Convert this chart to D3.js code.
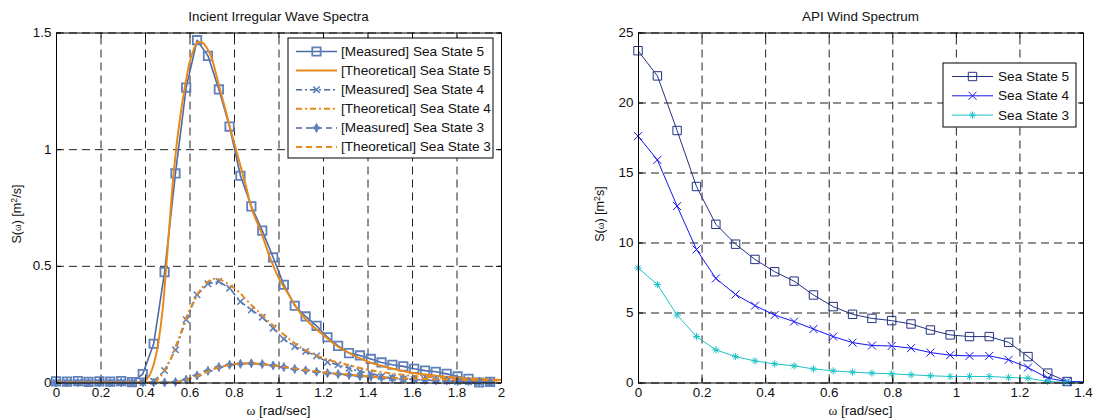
<!DOCTYPE html>
<html><head><meta charset="utf-8">
<script src="https://cdn.jsdelivr.net/npm/d3@7"></script>
<style>
body{margin:0;background:#fff;}
svg{display:block;font-family:"Liberation Sans",Arial,sans-serif;}
</style></head><body>
<svg id="c" width="1093" height="419"></svg>
<script>
// ---------------- DATA ----------------
// Left: incident irregular wave spectra (measured points)
const waveX = [0,0.049,0.098,0.146,0.195,0.244,0.293,0.341,0.390,0.439,0.488,0.537,0.585,0.634,0.683,0.732,0.780,0.829,0.878,0.927,0.976,1.024,1.073,1.122,1.171,1.220,1.268,1.317,1.366,1.415,1.463,1.512,1.561,1.610,1.659,1.707,1.756,1.805,1.854,1.902,1.951];
const measSS5 = [0.005,0.004,0.006,0.003,0.005,0.004,0.006,0.002,0.036,0.166,0.473,0.896,1.264,1.467,1.400,1.256,1.097,0.886,0.755,0.651,0.536,0.419,0.329,0.283,0.243,0.194,0.157,0.126,0.116,0.101,0.086,0.076,0.069,0.059,0.051,0.046,0.037,0.026,0.016,0.000,0.003];
const measSS4 = [0,0,0,0,0,0,0,0,0.000,0.005,0.051,0.140,0.269,0.376,0.423,0.433,0.404,0.347,0.311,0.280,0.233,0.186,0.154,0.133,0.114,0.087,0.076,0.061,0.047,0.040,0.026,0.019,0.016,0.013,0.010,0.008,0.006,0.004,0.003,0.001,0.000];
const measSS3 = [0,0,0,0,0,0,0,0,0,0,0,0.002,0.012,0.030,0.050,0.066,0.076,0.080,0.082,0.079,0.073,0.066,0.058,0.052,0.046,0.040,0.036,0.032,0.027,0.024,0.021,0.018,0.015,0.013,0.011,0.009,0.008,0.006,0.005,0.004,0.003];
// Left: theoretical curves
const thX = [0,0.3,0.36,0.4,0.42,0.44,0.46,0.48,0.5,0.52,0.54,0.56,0.58,0.6,0.62,0.64,0.66,0.68,0.7,0.72,0.74,0.76,0.78,0.8,0.82,0.85,0.88,0.92,0.96,1.0,1.05,1.1,1.15,1.2,1.25,1.3,1.4,1.5,1.6,1.7,1.8,1.9,2.0];
const theoSS5 = [0,0,0,0.008,0.03,0.08,0.17,0.32,0.55,0.80,1.0,1.15,1.27,1.37,1.43,1.46,1.455,1.43,1.39,1.32,1.245,1.175,1.10,1.03,0.96,0.855,0.745,0.65,0.54,0.45,0.37,0.295,0.245,0.205,0.165,0.135,0.09,0.062,0.042,0.03,0.021,0.015,0.011];
const theoSS4 = [0,0,0,0,0,0.003,0.015,0.04,0.075,0.11,0.16,0.21,0.265,0.31,0.35,0.385,0.41,0.43,0.442,0.445,0.44,0.43,0.418,0.405,0.39,0.36,0.33,0.295,0.258,0.225,0.185,0.15,0.125,0.105,0.09,0.078,0.055,0.04,0.029,0.022,0.017,0.013,0.011];
const theoSS3 = [0,0,0,0,0,0,0,0,0,0,0.001,0.004,0.009,0.015,0.022,0.03,0.038,0.046,0.054,0.061,0.067,0.072,0.076,0.079,0.081,0.082,0.082,0.079,0.075,0.07,0.063,0.056,0.05,0.044,0.039,0.035,0.027,0.021,0.017,0.014,0.012,0.01,0.009];
const waveLabels = ["[Measured] Sea State 5","[Theoretical] Sea State 5","[Measured] Sea State 4","[Theoretical] Sea State 4","[Measured] Sea State 3","[Theoretical] Sea State 3"];
const waveXTicks = [0,0.2,0.4,0.6,0.8,1,1.2,1.4,1.6,1.8,2];
const waveYTicks = [0,0.5,1,1.5];

// Right: API wind spectrum
const windX = [0,0.061,0.123,0.184,0.245,0.307,0.368,0.430,0.491,0.552,0.614,0.675,0.736,0.798,0.859,0.920,0.982,1.043,1.105,1.166,1.227,1.289,1.350,1.45];
const windSS5 = [23.7,21.9,18.0,14.0,11.3,9.88,8.79,7.91,7.24,6.25,5.42,4.87,4.58,4.42,4.18,3.75,3.40,3.28,3.28,2.87,1.85,0.67,0.07,0];
const windSS4 = [17.6,15.9,12.6,9.5,7.43,6.29,5.49,4.82,4.35,3.82,3.28,2.85,2.64,2.61,2.45,2.14,1.95,1.90,1.90,1.62,1.07,0.31,0.07,0];
const windSS3 = [8.19,7.0,4.82,3.28,2.33,1.85,1.54,1.33,1.19,0.97,0.83,0.74,0.67,0.62,0.55,0.48,0.43,0.43,0.43,0.36,0.31,0.07,0.02,0];
const windLabels = ["Sea State 5","Sea State 4","Sea State 3"];
const windXTicks = [0,0.2,0.4,0.6,0.8,1,1.2,1.4];
const windYTicks = [0,5,10,15,20,25];

// ---------------- DRAWING ----------------
const svg = d3.select('#c');
const SX = 1.1;            // horizontal text stretch seen in the reference
const FS = 12.2, LFS = 12.4, YFS = 12.6;
const fmt = d3.format('~g');

const markerPaths = {
  square: s => `M${-s},${-s}H${s}V${s}H${-s}Z`,
  cross: s => `M${-s},${-s}L${s},${s}M${-s},${s}L${s},${-s}`,
  star4: s => `M0,${-s}L${s*0.32},${-s*0.32}L${s},0L${s*0.32},${s*0.32}L0,${s}L${-s*0.32},${s*0.32}L${-s},0L${-s*0.32},${-s*0.32}Z`,
  asterisk: s => `M${-s},0H${s}M0,${-s}V${s}M${-s*0.7},${-s*0.7}L${s*0.7},${s*0.7}M${-s*0.7},${s*0.7}L${s*0.7},${-s*0.7}`
};

function stext(g, x, y, str, anchor, size) {
  return g.append('text')
    .attr('transform', `translate(${x},${y}) scale(${SX},1)`)
    .attr('text-anchor', anchor).attr('font-size', size).attr('fill', '#111')
    .text(str);
}

function makeFrame(P, xDom, yDom, xTicks, yTicks, title, id) {
  const g = svg.append('g');
  const x = d3.scaleLinear().domain(xDom).range([P.x0, P.x1]);
  const y = d3.scaleLinear().domain(yDom).range([P.y1, P.y0]);
  // grid
  g.append('g').attr('transform', `translate(0,${P.y1})`)
    .call(d3.axisBottom(x).tickValues(xTicks).tickSize(-(P.y1-P.y0)).tickFormat(''))
    .call(s => { s.select('.domain').remove(); s.selectAll('line').attr('stroke','#222').attr('stroke-dasharray','8,5').attr('stroke-width',1); });
  g.append('g').attr('transform', `translate(${P.x0},0)`)
    .call(d3.axisLeft(y).tickValues(yTicks).tickSize(-(P.x1-P.x0)).tickFormat(''))
    .call(s => { s.select('.domain').remove(); s.selectAll('line').attr('stroke','#222').attr('stroke-dasharray','8,5').attr('stroke-width',1); });
  svg.append('clipPath').attr('id', id).append('rect')
    .attr('x', P.x0).attr('y', P.y0).attr('width', P.x1-P.x0).attr('height', P.y1-P.y0);
  const axesG = svg.append('g');
  const bottom = axesG.append('g').attr('transform', `translate(0,${P.y1})`)
    .call(d3.axisBottom(x).tickValues(xTicks).tickFormat(fmt).tickSizeInner(-5).tickSizeOuter(0).tickPadding(6));
  const left = axesG.append('g').attr('transform', `translate(${P.x0},0)`)
    .call(d3.axisLeft(y).tickValues(yTicks).tickFormat(fmt).tickSizeInner(-5).tickSizeOuter(0).tickPadding(4.5));
  axesG.append('g').attr('transform', `translate(0,${P.y0})`)
    .call(d3.axisTop(x).tickValues(xTicks).tickFormat('').tickSizeInner(-5).tickSizeOuter(0));
  axesG.append('g').attr('transform', `translate(${P.x1},0)`)
    .call(d3.axisRight(y).tickValues(yTicks).tickFormat('').tickSizeInner(-5).tickSizeOuter(0));
  axesG.selectAll('.domain').attr('stroke','#000');
  axesG.selectAll('line').attr('stroke','#000');
  axesG.selectAll('text').attr('font-size', FS).attr('font-family','"Liberation Sans",Arial,sans-serif').attr('fill','#111')
    .attr('transform', `scale(${SX},1)`);
  bottom.selectAll('text').attr('x', 0);
  left.selectAll('text').each(function(){ const t=d3.select(this); t.attr('x', (+t.attr('x'))/SX); });
  stext(g, (P.x0+P.x1)/2, 21, title, 'middle', FS);
  const xl = g.append('text').attr('transform', `translate(${(P.x0+P.x1)/2},415) scale(${SX},1)`)
    .attr('text-anchor','middle').attr('font-size', FS).attr('fill','#111');
  xl.append('tspan').attr('font-family','"Liberation Serif","Times New Roman",serif').text('ω');
  xl.append('tspan').text(' [rad/sec]');
  return {g, x, y, axesG, clip: id};
}

function drawLegend(box, rows, lineX0, lineX1, textX, rowY0, rowDy, size) {
  const lg = svg.append('g');
  lg.append('rect').attr('x', box.x).attr('y', box.y).attr('width', box.w).attr('height', box.h)
    .attr('fill','#fff').attr('stroke','#000').attr('stroke-width',1);
  rows.forEach((r, i) => {
    const yy = rowY0 + i*rowDy;
    lg.append('line').attr('x1', lineX0).attr('x2', lineX1).attr('y1', yy).attr('y2', yy)
      .attr('stroke', r.color).attr('stroke-width', r.width).attr('stroke-dasharray', r.dash || null);
    if (r.marker) {
      lg.append('path').attr('transform', `translate(${(lineX0+lineX1)/2},${yy})`)
        .attr('d', markerPaths[r.marker](r.mSize))
        .attr('fill', r.mFill || 'none').attr('stroke', r.mColor || r.color).attr('stroke-width', r.mWidth || r.width);
    }
    stext(lg, textX, yy + size*0.36, r.name, 'start', size);
  });
}

function drawSeries(F, s, xMax) {
  const pts = s.xs.map((d, i) => [d, s.ys[i]]);
  const line = d3.line().x(d => F.x(d[0])).y(d => F.y(d[1]));
  if (s.smooth) line.curve(d3.curveMonotoneX);
  F.g.append('path').attr('clip-path', `url(#${F.clip})`).datum(pts)
    .attr('d', line).attr('fill','none').attr('stroke', s.color).attr('stroke-width', s.width)
    .attr('stroke-dasharray', s.dash || null).attr('stroke-linejoin','round');
  if (s.marker) {
    F.g.append('g').selectAll('path').data(pts.filter(d => d[0] <= xMax)).join('path')
      .attr('transform', d => `translate(${F.x(d[0])},${F.y(d[1])})`)
      .attr('d', markerPaths[s.marker](s.mSize))
      .attr('fill', s.mFill || 'none').attr('stroke', s.mColor || s.color).attr('stroke-width', s.mWidth || s.width);
  }
}

function yLabel(F, tx, ty, sep, tail) {
  const yl = F.g.append('text').attr('transform', `translate(${tx},${ty}) rotate(-90)`)
    .attr('text-anchor','middle').attr('font-size', YFS).attr('fill','#111');
  yl.append('tspan').text('S(');
  yl.append('tspan').attr('font-family','"Liberation Serif",serif').attr('font-size', YFS*0.8).text('ω');
  yl.append('tspan').text(')' + sep + '[m');
  yl.append('tspan').attr('font-size', YFS*0.7).attr('dy', -4.5).text('2');
  yl.append('tspan').attr('dy', 4.5).text(tail);
}

// ---------- Left chart ----------
const LP = {x0:56, x1:501, y0:32.5, y1:382.5};
const LF = makeFrame(LP, [0,2], [0,1.5], waveXTicks, waveYTicks, 'Incient Irregular Wave Spectra', 'clipL');
const blue = '#4d69a6', blueM = '#5f80bb', orange = '#e8891c';
const leftSeries = [
  {name: waveLabels[0], xs: waveX, ys: measSS5, color: blue, width: 1.6, marker: 'square', mSize: 4.2, mColor: blueM, mWidth: 1.8},
  {name: waveLabels[1], xs: thX, ys: theoSS5, color: orange, width: 2, smooth: true},
  {name: waveLabels[2], xs: waveX, ys: measSS4, color: blue, width: 1.5, dash: '6,3,2,3', marker: 'cross', mSize: 3.2, mColor: blueM, mWidth: 1.6},
  {name: waveLabels[3], xs: thX, ys: theoSS4, color: orange, width: 2, dash: '6,3,2,3', smooth: true},
  {name: waveLabels[4], xs: waveX, ys: measSS3, color: blue, width: 1.5, dash: '6,4', marker: 'star4', mSize: 4.5, mColor: blueM, mFill: blueM, mWidth: 1},
  {name: waveLabels[5], xs: thX, ys: theoSS3, color: orange, width: 2, dash: '6,4', smooth: true}
];
leftSeries.forEach(s => drawSeries(LF, s, 2));
yLabel(LF, 21, 214, '  ', '/s]');
drawLegend({x:288, y:38, w:205, h:120}, leftSeries, 296, 337, 341, 51.5, 19.1, LFS);

// ---------- Right chart ----------
const RP = {x0:638, x1:1083, y0:32.5, y1:382.5};
const RF = makeFrame(RP, [0,1.4], [0,25], windXTicks, windYTicks, 'API Wind Spectrum', 'clipR');
const rightSeries = [
  {name: windLabels[0], xs: windX, ys: windSS5, color: '#243282', width: 1, marker: 'square', mSize: 4.2},
  {name: windLabels[1], xs: windX, ys: windSS4, color: '#1414f0', width: 1, marker: 'cross', mSize: 4},
  {name: windLabels[2], xs: windX, ys: windSS3, color: '#1ec3c6', width: 1, marker: 'asterisk', mSize: 3.6}
];
rightSeries.forEach(s => drawSeries(RF, s, 1.4));
yLabel(RF, 604, 214, ' ', 's]');
drawLegend({x:943, y:63, w:133, h:64}, rightSeries, 952, 993, 998, 76.5, 19.3, LFS);

[LF, RF].forEach(F => F.axesG.raise());
</script>
</body></html>
